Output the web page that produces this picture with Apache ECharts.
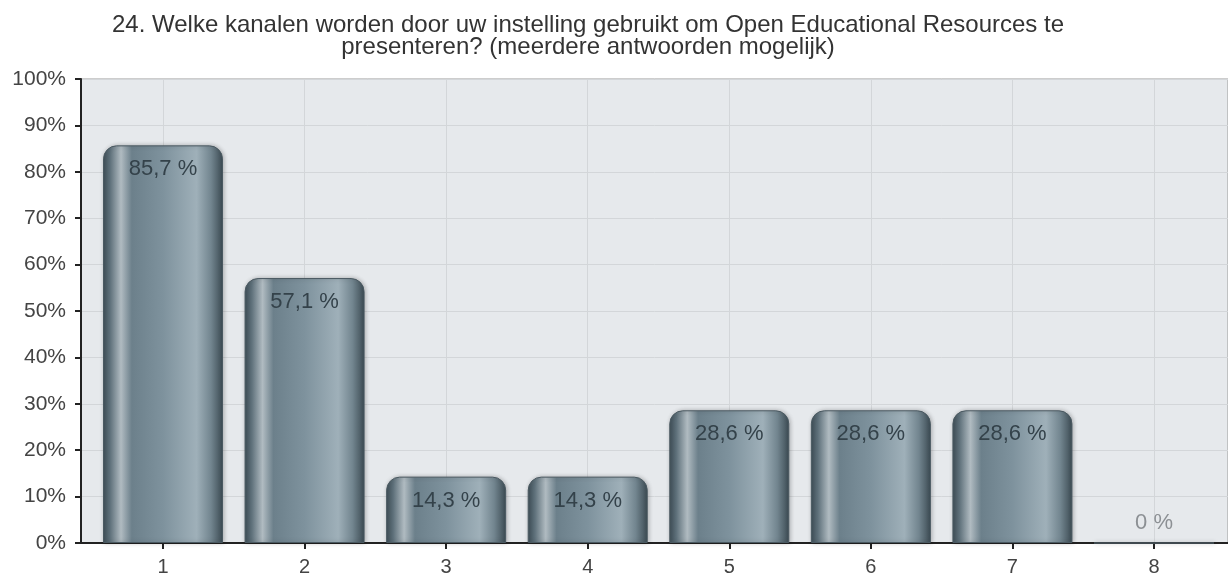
<!DOCTYPE html>
<html>
<head>
<meta charset="utf-8">
<script src="https://cdn.jsdelivr.net/npm/echarts@6/dist/echarts.min.js"></script>
<style>html,body{margin:0;padding:0;background:#fff}#c{width:1228px;height:577px}</style>
</head>
<body>
<div id="c"></div>
<script>
const titleLine1 = '24. Welke kanalen worden door uw instelling gebruikt om Open Educational Resources te';
const titleLine2 = 'presenteren? (meerdere antwoorden mogelijk)';
const categories = ['1', '2', '3', '4', '5', '6', '7', '8'];
const values = [85.7, 57.1, 14.3, 14.3, 28.6, 28.6, 28.6, 0];
const yTicks = [0, 10, 20, 30, 40, 50, 60, 70, 80, 90, 100];

const FONT = 'Liberation Sans, Arial, sans-serif';
const barGradient = {
  type: 'linear', x: 0, y: 0, x2: 1, y2: 0,
  colorStops: [
    {offset: 0, color: '#3f4f58'},
    {offset: 0.06, color: '#5f717b'},
    {offset: 0.15, color: '#b0bbc1'},
    {offset: 0.24, color: '#6c808b'},
    {offset: 0.5, color: '#7e929d'},
    {offset: 0.78, color: '#9fb0b9'},
    {offset: 0.9, color: '#72858f'},
    {offset: 1, color: '#3b4a52'}
  ]
};
const fmt = v => (v === 0 ? '0' : v.toFixed(1).replace('.', ',')) + ' %';

const data = values.map(v => {
  const item = {value: v};
  if (v === 0) {
    item.label = {position: 'top', distance: 9, color: '#8c9094'};
  }
  return item;
});

const chart = echarts.init(document.getElementById('c'), null, {renderer: 'canvas'});
chart.setOption({
  animation: false,
  backgroundColor: '#ffffff',
  title: [
    {text: titleLine1, left: 588, top: 13, padding: 0, textAlign: 'center',
     textStyle: {fontFamily: FONT, fontSize: 24, fontWeight: 'normal', color: '#333'}},
    {text: titleLine2, left: 588, top: 35, padding: 0, textAlign: 'center',
     textStyle: {fontFamily: FONT, fontSize: 24, fontWeight: 'normal', color: '#333'}}
  ],
  grid: [
    {left: 81, right: 0, top: 79, bottom: 34, show: true,
     backgroundColor: '#e6e9ec', borderColor: '#9a9a9a', borderWidth: 1},
    {left: 163, right: 74, top: 79, bottom: 34}
  ],
  xAxis: [
    {gridIndex: 0, type: 'value', min: 0, max: 1,
     axisLine: {show: true, lineStyle: {color: '#222', width: 2}},
     axisTick: {show: false}, axisLabel: {show: false}, splitLine: {show: false}},
    {gridIndex: 1, type: 'category', data: categories, boundaryGap: false,
     axisLine: {show: false},
     axisTick: {show: true, length: 6, lineStyle: {color: '#222', width: 2}},
     axisLabel: {margin: 14, fontFamily: FONT, fontSize: 20, color: '#444'},
     splitLine: {show: true, lineStyle: {color: '#d3d6d9', width: 1}}}
  ],
  yAxis: [
    {gridIndex: 0, type: 'value', min: yTicks[0], max: yTicks[yTicks.length - 1], interval: 10,
     axisLine: {show: true, lineStyle: {color: '#222', width: 2}},
     axisTick: {show: true, length: 6, lineStyle: {color: '#222', width: 2}},
     axisLabel: {margin: 15, fontFamily: FONT, fontSize: 21, color: '#444', formatter: '{value}%'},
     splitLine: {show: true, lineStyle: {color: '#d3d6d9', width: 1}}},
    {gridIndex: 1, type: 'value', min: yTicks[0], max: yTicks[yTicks.length - 1], interval: 10,
     show: false}
  ],
  series: [{
    type: 'bar',
    xAxisIndex: 1, yAxisIndex: 1,
    clip: false,
    data: data,
    barWidth: 120,
    itemStyle: {
      color: barGradient,
      borderRadius: [13, 13, 0, 0],
      borderColor: '#4a5961', borderWidth: 1,
      shadowColor: 'rgba(0,0,0,0.25)', shadowBlur: 4, shadowOffsetX: 1, shadowOffsetY: 0
    },
    label: {
      show: true, position: 'insideTop', distance: 13,
      fontFamily: FONT, fontSize: 22, color: '#34424a',
      formatter: p => fmt(p.value)
    }
  }]
});
</script>
</body>
</html>
